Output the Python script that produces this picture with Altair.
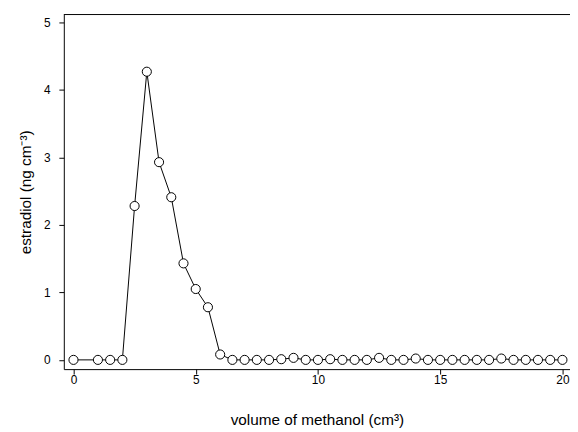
import altair as alt
import pandas as pd

volume = [0, 1, 1.5, 2, 2.5, 3, 3.5, 4, 4.5, 5, 5.5, 6,
          6.5, 7, 7.5, 8, 8.5, 9, 9.5, 10, 10.5, 11, 11.5, 12,
          12.5, 13, 13.5, 14, 14.5, 15, 15.5, 16, 16.5, 17, 17.5, 18,
          18.5, 19, 19.5, 20]
estradiol = [0, 0, 0, 0, 2.28, 4.27, 2.93, 2.41, 1.43, 1.05, 0.78, 0.08,
             0, 0, 0, 0, 0.01, 0.03, 0, 0, 0.01, 0, 0, 0,
             0.03, 0, 0, 0.02, 0, 0, 0, 0, 0, 0, 0.02, 0,
             0, 0, 0, 0]
x_ticks = [0, 5, 10, 15, 20]
y_ticks = [0, 1, 2, 3, 4, 5]

df = pd.DataFrame({"volume": volume, "estradiol": estradiol})

W, H = 512.5, 359
FONT = "Liberation Sans"

x_enc = alt.X("volume:Q",
              scale=alt.Scale(domain=[-0.396, 20.31], nice=False, zero=False),
              axis=alt.Axis(values=x_ticks, title="volume of methanol (cm³)", format="d",
                            grid=False, tickSize=5, labelPadding=1,
                            titlePadding=27, domainColor="black", tickColor="black",
                            labelFlush=False, labelOverlap=False,
                            labelFont=FONT, titleFont=FONT, labelFontSize=12,
                            titleFontSize=15.5, titleFontWeight="normal",
                            labelColor="black", titleColor="black"))
y_enc = alt.Y("estradiol:Q",
              scale=alt.Scale(domain=[-0.137, 5.117], nice=False, zero=False),
              axis=alt.Axis(values=y_ticks, title="estradiol (ng cm⁻³)", format="d",
                            grid=False, tickSize=5, labelPadding=9,
                            titlePadding=10, domainColor="black", tickColor="black",
                            labelFlush=False, labelOverlap=False,
                            labelFont=FONT, titleFont=FONT, labelFontSize=12,
                            titleFontSize=15.5, titleFontWeight="normal",
                            labelColor="black", titleColor="black"))

base = alt.Chart(df)
line = base.mark_line(color="black", strokeWidth=1).encode(x=x_enc, y=y_enc)
pts = base.mark_point(shape="circle", filled=True, fill="white", stroke="black",
                      strokeWidth=1, size=85, opacity=1).encode(x="volume:Q", y="estradiol:Q")
top = alt.Chart(pd.DataFrame({"a": [0]})).mark_rule(color="black", strokeWidth=1).encode(
    x=alt.value(0), x2=alt.value(W), y=alt.value(0))

chart = alt.layer(line, pts, top).properties(
    width=W, height=H,
    background="white",
    autosize=alt.AutoSizeParams(type="none"),
    padding={"left": 56.5, "top": 4, "right": 0, "bottom": 59},
).configure_view(stroke=None)

chart.save("out.html", embed_options={"renderer": "svg", "actions": False})
